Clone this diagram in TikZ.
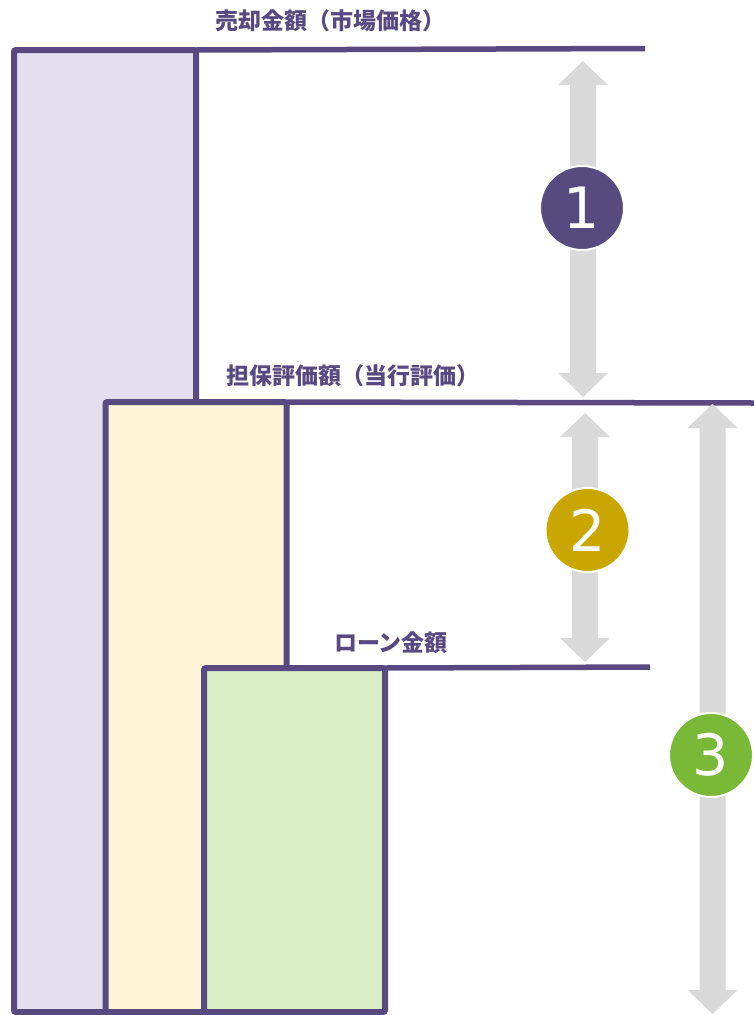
\documentclass[tikz,border=0pt]{standalone}
\usepackage{fontspec}
\newfontfamily\jp{Noto Sans CJK JP}
\newfontfamily\numf{DejaVu Sans}
\definecolor{pborder}{HTML}{584A80}
\definecolor{lav}{HTML}{E3DFEE}
\definecolor{yel}{HTML}{FDF5D5}
\definecolor{grn}{HTML}{D9EEC5}
\definecolor{gry}{HTML}{D9D9D9}
\definecolor{cA}{HTML}{574A7E}
\definecolor{cB}{HTML}{C9A700}
\definecolor{cC}{HTML}{7AB837}
\tikzset{
  bar/.style={draw=pborder, line width=6pt, rounded corners=2pt, inner sep=0pt, outer sep=0pt},
  lvl/.style={draw=pborder, line width=5.5pt},
  lbl/.style={text=pborder, font=\jp\bfseries\fontsize{23}{26}\selectfont, inner sep=0pt},
  circ/.style={circle, draw=white, line width=2pt, minimum size=84pt, inner sep=0pt, text=white, font=\numf\fontsize{57}{62}\selectfont},
  blk/.style={fill=gry, draw=none}
}
\newcommand{\dblarrow}[3]{% x, ytop, ybottom
  \fill[blk] (#1,#2) -- (#1+25,#2+24) -- (#1+13,#2+24) -- (#1+13,#3-24) -- (#1+25,#3-24) -- (#1,#3) -- (#1-25,#3-24) -- (#1-13,#3-24) -- (#1-13,#2+24) -- (#1-25,#2+24) -- cycle;}
\begin{document}
\begin{tikzpicture}[x=1pt, y=-1pt]
\useasboundingbox (0,0) rectangle (754,1015);
% bars
\node[bar, fill=lav, anchor=north west, minimum width=182pt, minimum height=962pt] (barA) at (14,50) {};
\node[bar, fill=yel, anchor=north west, minimum width=181pt, minimum height=610pt] (barB) at (105.5,402) {};
\node[bar, fill=grn, anchor=north west, minimum width=181pt, minimum height=344pt] (barC) at (204,668) {};
% level lines
\coordinate (eA) at (645,48.5);
\coordinate (eB) at (754,403);
\coordinate (eC) at (650,667);
\draw[lvl] (barA.north east) -- (eA);
\draw[lvl] (barB.north east) -- (eB);
\draw[lvl] (barC.north east) -- (eC);
% labels
\node[lbl] (tA) at (330,21) {売却金額（市場価格）};
\node[lbl] (tB) at (353,376) {担保評価額（当行評価）};
\node[lbl] (tC) at (391,643) {ローン金額};
% arrows
\dblarrow{583}{61}{397}
\dblarrow{585}{413}{662}
\dblarrow{712.5}{404}{1014}
% circles
\node[circ, fill=cA] (nA) at (582,208) {1};
\node[circ, fill=cB] (nB) at (587.5,530) {2};
\node[circ, fill=cC] (nC) at (711,755) {3};
\end{tikzpicture}
\end{document}
